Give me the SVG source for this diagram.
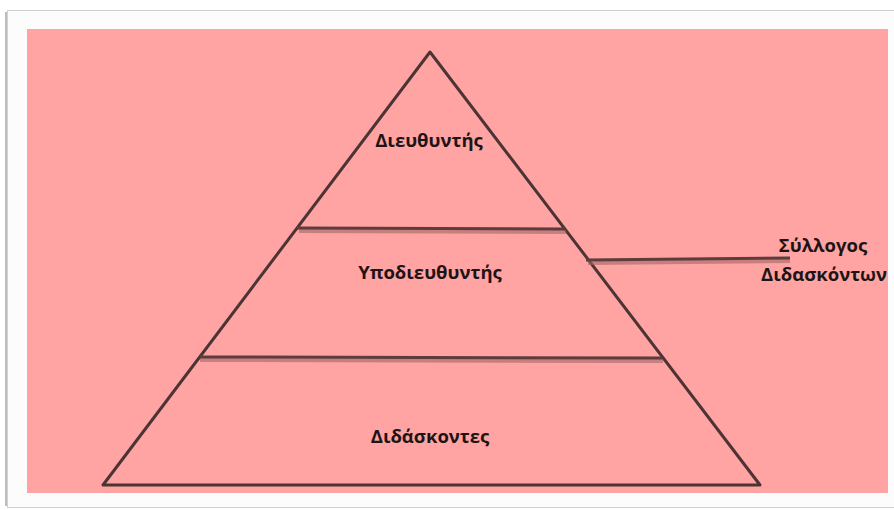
<svg xmlns="http://www.w3.org/2000/svg" width="894" height="510" viewBox="0 0 894 510">
<defs>
<style>
.edge{stroke:#4d3434;stroke-width:3;fill:none;stroke-linecap:round;stroke-linejoin:round}
.bar{stroke:#5e3c3c;stroke-width:3;fill:none}
.shadow{stroke:#a06666;stroke-width:4;fill:none;opacity:0.6}
.lbl{font-family:"Open Sans","Liberation Sans",sans-serif;font-weight:bold;font-size:18.5px;fill:#1e1414;text-anchor:middle}
</style>
<clipPath id="pinkclip"><rect x="27" y="29" width="861" height="464"/></clipPath>
</defs>
<rect x="0" y="0" width="894" height="510" fill="#ffffff"/>
<rect x="7.5" y="10.5" width="890" height="497" fill="#fcfcfc" stroke="#d0d0d0" stroke-width="1"/>
<line x1="6" y1="12" x2="6" y2="506" stroke="#bdbdbd" stroke-width="2"/>
<rect x="27" y="29" width="861" height="464" fill="#ffa3a3"/>
<g id="pyramid">
<polygon class="edge" points="430,52 103,485 760,485"/>
</g>
<g id="connectors">
<line class="shadow" x1="299" y1="231" x2="566" y2="232"/>
<line class="bar" x1="297" y1="228" x2="565" y2="229"/>
<line class="shadow" x1="200" y1="360" x2="663" y2="361"/>
<line class="bar" x1="200" y1="357" x2="662" y2="358"/>
<line class="shadow" x1="588" y1="263" x2="790" y2="261"/>
<line class="bar" x1="586" y1="260" x2="790" y2="258"/>
</g>
<g id="node-director"><text class="lbl" x="429" y="147">Διευθυντής</text></g>
<g id="node-deputy"><text class="lbl" x="430" y="279">Υποδιευθυντής</text></g>
<g id="node-teachers"><text class="lbl" x="430" y="443">Διδάσκοντες</text></g>
<g id="node-council" clip-path="url(#pinkclip)">
<text class="lbl" x="823" y="252">Σύλλογος</text>
<text class="lbl" x="761" y="281" style="text-anchor:start">Διδασκόντων</text>
</g>
</svg>
